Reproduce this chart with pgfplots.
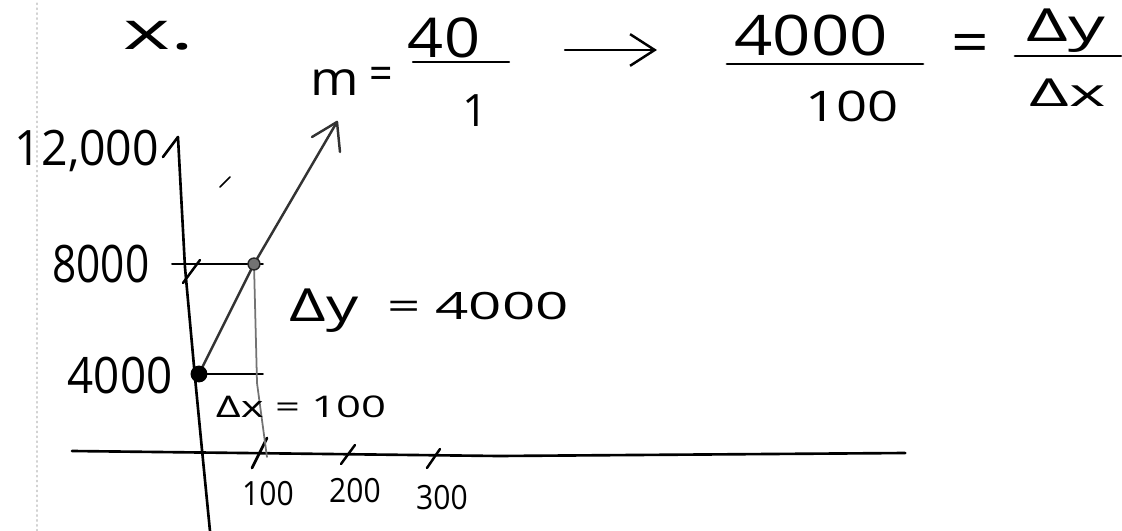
\documentclass[border=0pt]{standalone}
\usepackage{pgfplots}
\pgfplotsset{compat=1.18}
\usepackage{graphicx}
\usepackage{fontspec}
\setmainfont{Open Sans}
\usetikzlibrary{arrows.meta}

% hand-lettered text: #1 horizontal stretch, #2 font size (pt), #3 text
\newcommand\hw[3]{\scalebox{#1}[1]{\fontsize{#2}{#2}\selectfont #3}}

\begin{document}
\begin{tikzpicture}
  \begin{axis}[
      width=11.22cm, height=5.31cm, scale only axis,
      xmin=-361.8, xmax=1678.2, ymin=-1709, ymax=17600,
      axis lines=none, clip=false,
      every axis plot/.append style={line cap=round, line join=round},
    ]
    % faint page edge
    \addplot[gray!35, densely dotted, line width=0.4pt] coordinates {(-294.5,-1709) (-294.5,17600)};

    % hand-drawn y axis (with barb at the top)
    \addplot[black, line width=0.75pt] coordinates
      {(20,-1709) (5.5,1236) (-7.3,3891) (-25.5,7891) (-38.2,12618)};
    \addplot[black, line width=0.75pt] coordinates {(-65.5,11891) (-38.2,12618)};
    % hand-drawn x axis
    \addplot[black, line width=0.75pt] coordinates {(-231,1200) (545,1018) (1284,1127)};

    % tick strokes
    \addplot[black, line width=0.8pt] coordinates {(96.4,582) (123.6,1673)};
    \addplot[black, line width=0.7pt] coordinates {(258.2,727) (283.6,1418)};
    \addplot[black, line width=0.7pt] coordinates {(414.5,582) (438.2,1273)};
    \addplot[black, line width=0.7pt] coordinates {(-29.1,7309) (1.8,8145)};
    \addplot[black, line width=0.5pt] coordinates {(38.2,10800) (56.4,11164)};

    % guide lines for the slope triangle
    \addplot[black, line width=0.6pt] coordinates {(-49,8000) (116,8000)};
    \addplot[black, line width=0.6pt] coordinates {(2,4000) (116,4000)};
    \addplot[black!55, line width=0.5pt] coordinates {(100,8000) (105.5,3673) (123.6,982)};

    % the line y = 4000 + 40x, ending in an arrow
    \addplot[black!80, line width=0.7pt] coordinates {(0,4000) (100,8000) (250.9,13164)};
    \addplot[black!80, line width=0.7pt] coordinates {(205.5,12618) (250.9,13164) (256.4,12073)};

    % the two points
    \addplot[only marks, mark=*, mark size=2.2pt, black] coordinates {(0,4000)};
    \addplot[only marks, mark=*, mark size=1.7pt, black!85, mark options={fill=black!55}] coordinates {(100,8000)};

    % axis labels
    \node[anchor=base] at (axis cs:-203.6,11564) {\hw{0.95}{13.9}{12,000}};
    \node[anchor=base] at (axis cs:-178.2,7309) {\hw{0.82}{14.7}{8000}};
    \node[anchor=base] at (axis cs:-143.6,3309) {\hw{0.91}{14.3}{4000}};
    \node[anchor=base] at (axis cs:125.5,-800) {\hw{0.9}{9.5}{100}};
    \node[anchor=base] at (axis cs:283.6,-655) {\hw{0.9}{9.5}{200}};
    \node[anchor=base] at (axis cs:441.8,-945) {\hw{0.9}{9.5}{300}};

    % triangle annotations
    \node[anchor=base] at (axis cs:227.3,5891) {\hw{1.4}{13}{Δy}};
    \node[anchor=base] at (axis cs:507.3,5964) {\hw{1.55}{10.7}{= 4000}};
    \node[anchor=base] at (axis cs:185.5,2436) {\hw{1.46}{8.5}{Δx = 100}};

    % heading
    \node[anchor=base] at (axis cs:-72.7,15782) {\hw{1.7}{15}{x.}};
    \node[anchor=base] at (axis cs:247.3,14109) {\hw{1.1}{13.5}{m}};
    \node[anchor=center] at (axis cs:330.9,14764) {\hw{0.9}{13}{=}};
    \node[anchor=base] at (axis cs:445.5,15491) {\hw{1.15}{15.6}{40}};
    \addplot[black, line width=0.7pt] coordinates {(389.1,15345) (563.6,15345)};
    \node[anchor=base] at (axis cs:501.8,13018) {\hw{1}{12.7}{1}};
    \addplot[black, line width=0.7pt, -{Straight Barb[length=7pt, width=9pt]}] coordinates {(665.5,15782) (832.7,15782)};
    \node[anchor=base] at (axis cs:1112.7,15564) {\hw{1.2}{15.9}{4000}};
    \addplot[black, line width=0.8pt] coordinates {(960,15273) (1316.4,15273)};
    \node[anchor=base] at (axis cs:1187.3,13164) {\hw{1.29}{12}{100}};
    \node[anchor=center] at (axis cs:1401.8,15818) {\hw{1.1}{17}{=}};
    \node[anchor=base] at (axis cs:1576.4,16073) {\hw{1.6}{13}{Δy}};
    \addplot[black, line width=0.8pt] coordinates {(1483.6,15564) (1676.4,15564)};
    \node[anchor=base] at (axis cs:1580,13745) {\hw{1.8}{11}{Δx}};
  \end{axis}
  \pgfresetboundingbox
  \path (current axis.south west) rectangle (current axis.north east);
\end{tikzpicture}
\end{document}
